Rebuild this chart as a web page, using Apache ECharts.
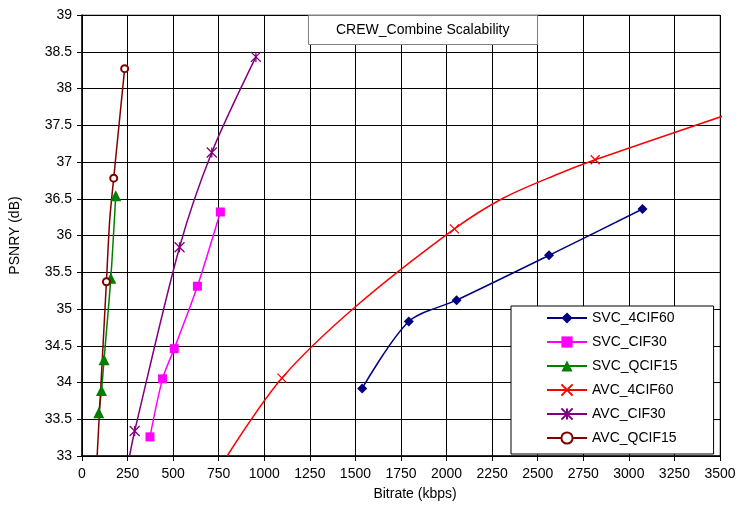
<!DOCTYPE html>
<html><head><meta charset="utf-8">
<script src="https://cdn.jsdelivr.net/npm/echarts@6/dist/echarts.min.js"></script>
<style>html,body{margin:0;padding:0;background:#fff}#c{width:740px;height:506px}</style>
</head><body><div id="c"></div>
<script>
const titleText = 'CREW_Combine Scalability';
const xName = 'Bitrate (kbps)';
const yName = 'PSNRY (dB)';
const seriesNames = ['SVC_4CIF60','SVC_CIF30','SVC_QCIF15','AVC_4CIF60','AVC_CIF30','AVC_QCIF15'];
// marked points [bitrate, psnr]
const svc4cif60 = [[1537,33.92],[1793,34.83],[2055,35.12],[2562,35.73],[3075,36.36]];
const svcCif30  = [[373,33.26],[442,34.05],[506,34.46],[633,35.31],[759,36.32]];
const svcQcif15 = [[92,33.59],[107,33.89],[121,34.31],[158,35.42],[185,36.54]];
const avc4cif60 = [[1097,34.06],[2043,36.09],[2815,37.03]];
const avcCif30  = [[289,33.34],[535,35.84],[712,37.13],[954,38.43]];
const avcQcif15 = [[134,35.37],[174,36.78],[234,38.27]];
// unmarked curve points
const avc4cif60Curve = [[796,33.0],[1500,35.03],[2312,36.51],[2595,36.82],[3534,37.64]];
const avcCif30Curve  = [[261,33.0]];
const avcQcif15Curve = [[83,33.0],[152,36.21]];
const emptyCurve = [];

const colors = ['#000080','#FF00FF','#008000','#FF0000','#800080','#800000'];
const crossPath = 'path://M0,0L10,10M10,0L0,10';
const starPath = 'path://M0,0L10,10M10,0L0,10M5,0L5,10';
const symbols = ['diamond','rect','triangle',crossPath,starPath,'emptyCircle'];
const symbolSizes = [10,9,11,9,10,7];
const marked = [svc4cif60,svcCif30,svcQcif15,avc4cif60,avcCif30,avcQcif15];
const curves = [emptyCurve,emptyCurve,emptyCurve,avc4cif60Curve,avcCif30Curve,avcQcif15Curve];

function build(m, c){
  const pts = m.map(p=>({value:p})).concat(c.map(p=>({value:p,symbol:'none'})));
  pts.sort((a,b)=>a.value[0]-b.value[0]);
  return pts;
}
const FONT = '"Liberation Sans", Arial, sans-serif';
const series = seriesNames.map((n,i)=>{
  const stroke = (i===3||i===4);
  return {
    name:n, type:'line', data:build(marked[i],curves[i]),
    smooth:0.3, clip:false,
    symbol:symbols[i], symbolSize:symbolSizes[i], showAllSymbol:true,
    lineStyle:{color:colors[i], width:1.5},
    itemStyle: stroke ? {color:colors[i], borderColor:colors[i], borderWidth:1.3}
                      : (i===5 ? {color:colors[i], borderColor:colors[i], borderWidth:1} : {color:colors[i], borderWidth:0}),
    emphasis:{disabled:true}
  };
});

const chart = echarts.init(document.getElementById('c'), null, {renderer:'canvas'});
chart.setOption({
  animation:false,
  backgroundColor:'#fff',
  textStyle:{fontFamily:FONT},
  title:{text:titleText, left:308, top:15, padding:[8,28],
    backgroundColor:'#fff', borderColor:'#808080', borderWidth:1,
    textStyle:{fontFamily:FONT, fontSize:14, fontWeight:'normal', color:'#000'}},
  legend:{orient:'vertical', left:511, top:306, padding:[5,36,9,35],
    backgroundColor:'#fff', borderColor:'#000', borderWidth:1,
    itemWidth:40, itemHeight:14, itemGap:10,
    textStyle:{fontFamily:FONT, fontSize:14, color:'#000'}, data:seriesNames},
  grid:{left:80, right:20, top:15, bottom:47, show:true, borderColor:'#808080', borderWidth:1, backgroundColor:'#fff'},
  xAxis:{type:'value', min:0, max:3500, interval:250,
    name:xName, nameLocation:'middle', nameGap:31,
    nameTextStyle:{fontFamily:FONT, fontSize:14, color:'#000', padding:[0,0,0,28]},
    axisLine:{lineStyle:{color:'#000', width:1.5}},
    axisTick:{show:true, length:5, lineStyle:{color:'#000'}},
    axisLabel:{fontFamily:FONT, fontSize:14, color:'#000', margin:11, formatter:v=>String(v)},
    splitLine:{show:true, lineStyle:{color:'#000', width:1}}},
  yAxis:{type:'value', min:33, max:39, interval:0.5,
    name:yName, nameLocation:'middle', nameGap:60,
    nameTextStyle:{fontFamily:FONT, fontSize:14, color:'#000'},
    axisLine:{show:true, lineStyle:{color:'#000', width:1.5}},
    axisTick:{show:true, length:5, lineStyle:{color:'#000'}},
    axisLabel:{fontFamily:FONT, fontSize:14, color:'#000', margin:10, formatter:v=>String(v)},
    splitLine:{show:true, lineStyle:{color:'#000', width:1}}},
  series:series
});
</script></body></html>
